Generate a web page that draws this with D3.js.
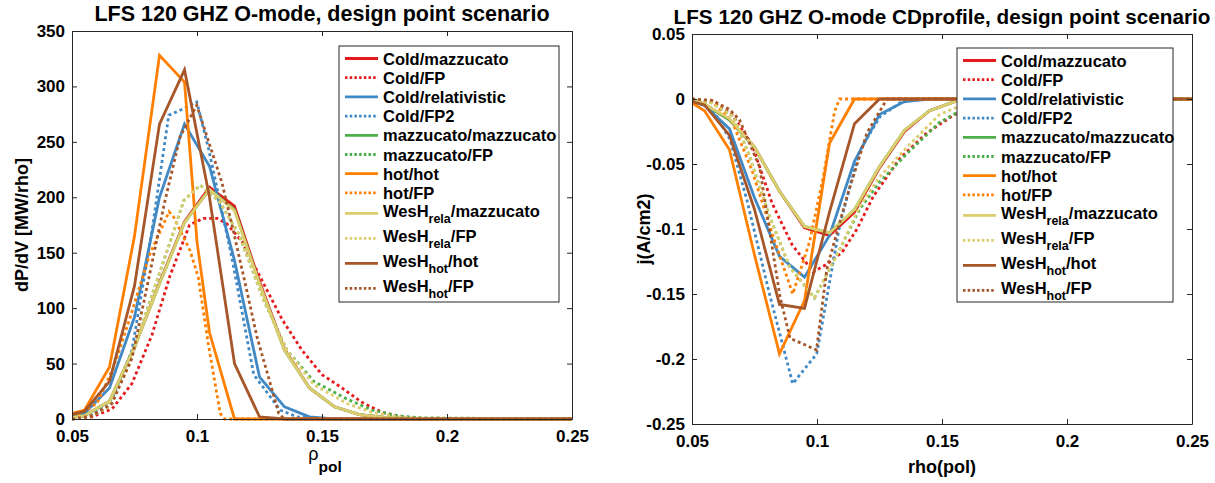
<!DOCTYPE html>
<html><head><meta charset="utf-8">
<script src="https://cdn.jsdelivr.net/npm/d3@7/dist/d3.min.js"></script>
<style>
body{margin:0;background:#fff}
svg text{font-family:"Liberation Sans",Arial,Helvetica,sans-serif;font-weight:bold;fill:#000}
</style>
</head><body>
<svg id="c" width="1215" height="483"></svg>
<script>
// ---------- legend / series names ----------
const seriesLabels = [
  ["Cold/mazzucato"], ["Cold/FP"], ["Cold/relativistic"], ["Cold/FP2"],
  ["mazzucato/mazzucato"], ["mazzucato/FP"], ["hot/hot"], ["hot/FP"],
  ["WesH","rela","/mazzucato"], ["WesH","rela","/FP"], ["WesH","hot","/hot"], ["WesH","hot","/FP"]
];
const titles = ["LFS 120 GHZ O-mode, design point scenario", "LFS 120 GHZ O-mode CDprofile, design point scenario"];
const xTicks = [0.05, 0.1, 0.15, 0.2, 0.25];
const yTicksPow = [0, 50, 100, 150, 200, 250, 300, 350];
const yTicksCur = [0.05, 0, -0.05, -0.1, -0.15, -0.2, -0.25];

// ---------- left panel: dP/dV ----------
const gridPow = [0.05,0.055,0.065,0.075,0.085,0.095,0.105,0.115,0.125,0.135,0.145,0.155,0.165,0.175,0.185,0.195,0.25];
const powColdMazz   = [1.5,3,16,65,123,178,209,192,124,63,28,11,4,1.5,0.5,0,0];
const powColdFPx    = [0.05,0.058,0.066,0.074,0.082,0.089,0.097,0.1025,0.108,0.112,0.118,0.126,0.134,0.142,0.15,0.158,0.166,0.174,0.182,0.19,0.25];
const powColdFP     = [0,2,9,32,76,128,175,181,181,176,160,125,90,62,40,28,15,6,2,0.5,0];
const powColdRel    = [3,5,28,92,200,266,228,143,38,11,2,0,0,0,0,0,0];
const powColdFP2x   = [0.05,0.058,0.066,0.074,0.082,0.0887,0.0947,0.0999,0.1047,0.114,0.1227,0.1333,0.14,0.15,0.25];
const powColdFP2    = [1,4,18,62,170,274,280,286,243,145,40,8,2,0,0];
const powMazzMazz   = [1.5,3,16,65,122,177,207,189,122,62,28,11,4,1.5,0.5,0,0];
const powMazzFPx    = [0.05,0.058,0.0647,0.073,0.081,0.0893,0.0947,0.1013,0.1087,0.1167,0.1267,0.136,0.1467,0.16,0.17,0.18,0.19,0.25];
const powMazzFP     = [0,3,11,50,105,160,197,211,197,167,107,62,34,18,8,3,1,0];
const powHotHotx    = [0.05,0.055,0.065,0.075,0.085,0.095,0.1,0.105,0.115,0.25];
const powHotHot     = [5,8,47,165,328,304,160,78,0,0];
const powHotFPx     = [0.05,0.06,0.0667,0.0733,0.081,0.0888,0.0907,0.0972,0.1005,0.1045,0.1093,0.111,0.25];
const powHotFP      = [1,14,47,92,148,187,182,152,128,68,5,0,0];
const powWesRelaMazz= [1.5,3,16,65,122,177,207,188,122,62,28,11,4,1.5,0.5,0,0];
const powWesRelaFP  = [0,3,11,50,105,160,197,211,197,167,107,62,31,14,6,2,0.5,0];
const powWesHotHotx = [0.05,0.055,0.065,0.075,0.085,0.095,0.105,0.115,0.125,0.135,0.25];
const powWesHotHot  = [4,7,34,120,266,315,200,50,2,0,0];
const powWesHotFPx  = [0.05,0.058,0.066,0.074,0.081,0.087,0.0933,0.0999,0.1067,0.11,0.1147,0.1193,0.124,0.1293,0.1327,0.135,0.25];
const powWesHotFP   = [0,3,14,55,130,195,255,283,236,213,168,122,74,32,5,0,0];

// ---------- right panel: current density ----------
const gridCur = [0.05,0.055,0.065,0.075,0.085,0.095,0.105,0.115,0.125,0.135,0.145,0.155,0.165,0.175,0.25];
const curColdMazz   = [0,-0.004,-0.016,-0.037,-0.071,-0.099,-0.105,-0.087,-0.053,-0.025,-0.009,-0.002,0,0,0];
const curColdFPx    = [0.05,0.058,0.066,0.074,0.082,0.09,0.0985,0.104,0.11,0.116,0.1225,0.133,0.144,0.155,0.165,0.175,0.25];
const curColdFP     = [0,-0.002,-0.012,-0.035,-0.08,-0.112,-0.133,-0.127,-0.118,-0.1,-0.075,-0.046,-0.026,-0.012,-0.004,0,0];
const curColdRel    = [-0.002,-0.005,-0.023,-0.076,-0.121,-0.137,-0.105,-0.048,-0.012,-0.002,0,0,0,0,0];
const curColdFP2x   = [0.05,0.058,0.0652,0.072,0.081,0.0903,0.0999,0.1092,0.117,0.1252,0.1332,0.14,0.25];
const curColdFP2    = [-0.001,-0.007,-0.031,-0.078,-0.15,-0.219,-0.196,-0.096,-0.04,-0.0136,-0.003,0,0];
const curMazzMazz   = [0,-0.004,-0.016,-0.037,-0.071,-0.098,-0.103,-0.085,-0.052,-0.024,-0.009,-0.002,0,0,0];
const curMazzFPx    = [0.05,0.058,0.0667,0.073,0.081,0.089,0.099,0.109,0.117,0.125,0.136,0.149,0.16,0.17,0.18,0.25];
const curMazzFP     = [0,-0.003,-0.0136,-0.044,-0.09,-0.129,-0.153,-0.116,-0.085,-0.064,-0.042,-0.018,-0.006,-0.001,0,0];
const curHotHot     = [-0.003,-0.009,-0.039,-0.12,-0.196,-0.155,-0.034,0,0,0,0,0,0,0,0];
const curHotFPx     = [0.05,0.058,0.066,0.074,0.0825,0.0903,0.097,0.1025,0.107,0.109,0.25];
const curHotFP      = [0,-0.002,-0.017,-0.055,-0.106,-0.15,-0.11,-0.06,-0.01,0,0];
const curWesRelaMazz= [0,-0.004,-0.015,-0.037,-0.071,-0.098,-0.103,-0.085,-0.052,-0.024,-0.009,-0.002,0,0,0];
const curWesRelaFPx = [0.05,0.058,0.0667,0.073,0.081,0.089,0.099,0.109,0.117,0.125,0.136,0.149,0.16,0.17,0.25];
const curWesRelaFP  = [0,-0.003,-0.0136,-0.044,-0.09,-0.129,-0.153,-0.116,-0.083,-0.06,-0.037,-0.012,-0.003,0,0];
const curWesHotHot  = [-0.002,-0.0046,-0.028,-0.085,-0.158,-0.161,-0.087,-0.019,0,0,0,0,0,0,0];
const curWesHotFPx  = [0.05,0.058,0.065,0.069,0.077,0.0852,0.0892,0.0998,0.104,0.112,0.12,0.128,0.25];
const curWesHotFP   = [0,-0.001,-0.008,-0.016,-0.052,-0.152,-0.184,-0.193,-0.13,-0.075,-0.026,0,0];

// ---------- styles ----------
const seriesColors = ["#E41A1C","#E41A1C","#4189C4","#4189C4","#4DAF4A","#4DAF4A",
                      "#FF7F00","#FF7F00","#DCCD6E","#DCCD6E","#A65628","#A65628"];
const seriesDotted = [false,true,false,true,false,true,false,true,false,true,false,true];

const zip = (xs, ys) => xs.map((x, i) => [x, ys[i]]);
const leftData = [
  zip(gridPow, powColdMazz), zip(powColdFPx, powColdFP), zip(gridPow, powColdRel), zip(powColdFP2x, powColdFP2),
  zip(gridPow, powMazzMazz), zip(powMazzFPx, powMazzFP), zip(powHotHotx, powHotHot), zip(powHotFPx, powHotFP),
  zip(gridPow, powWesRelaMazz), zip(powMazzFPx, powWesRelaFP), zip(powWesHotHotx, powWesHotHot), zip(powWesHotFPx, powWesHotFP)
];
const rightData = [
  zip(gridCur, curColdMazz), zip(curColdFPx, curColdFP), zip(gridCur, curColdRel), zip(curColdFP2x, curColdFP2),
  zip(gridCur, curMazzMazz), zip(curMazzFPx, curMazzFP), zip(gridCur, curHotHot), zip(curHotFPx, curHotFP),
  zip(gridCur, curWesRelaMazz), zip(curWesRelaFPx, curWesRelaFP), zip(gridCur, curWesHotHot), zip(curWesHotFPx, curWesHotFP)
];

const svg = d3.select("#c");
const AX = "#262626";

function panel(o) {
  const x = d3.scaleLinear().domain([0.05, 0.25]).range([o.l, o.r]);
  const y = d3.scaleLinear().domain(o.yDomain).range([o.b, o.t]);
  const g = svg.append("g");
  const clipId = "clip" + o.id;
  g.append("clipPath").attr("id", clipId).append("rect")
    .attr("x", o.l).attr("y", o.t - 2).attr("width", o.r - o.l).attr("height", o.b - o.t + 4);

  const line = d3.line().x(d => x(d[0])).y(d => y(d[1]));
  const lines = g.append("g").attr("clip-path", `url(#${clipId})`);
  o.data.forEach((d, i) => {
    lines.append("path").attr("d", line(d)).attr("fill", "none")
      .attr("stroke", seriesColors[i]).attr("stroke-width", 2.8)
      .attr("stroke-linejoin", "miter")
      .attr("stroke-dasharray", seriesDotted[i] ? "3,3" : null);
  });

  const fmt = d => (d === 0 ? "0" : String(d));
  const styleAxis = sel => {
    sel.selectAll("path,line").attr("stroke", AX).attr("stroke-width", 1);
    sel.selectAll("text").attr("font-size", 17).attr("font-family", null).style("fill", "#000");
    sel.attr("font-family", null).attr("font-size", null);
  };
  g.append("g").attr("transform", `translate(0,${o.b})`)
    .call(d3.axisBottom(x).tickValues(xTicks).tickFormat(fmt).tickSizeInner(-5).tickSizeOuter(0).tickPadding(11)).call(styleAxis);
  g.append("g").attr("transform", `translate(0,${o.t})`)
    .call(d3.axisTop(x).tickValues(xTicks).tickFormat("").tickSizeInner(-5).tickSizeOuter(0)).call(styleAxis);
  g.append("g").attr("transform", `translate(${o.l},0)`)
    .call(d3.axisLeft(y).tickValues(o.yTicks).tickFormat(fmt).tickSizeInner(-5).tickSizeOuter(0).tickPadding(7)).call(styleAxis);
  g.append("g").attr("transform", `translate(${o.r},0)`)
    .call(d3.axisRight(y).tickValues(o.yTicks).tickFormat("").tickSizeInner(-5).tickSizeOuter(0)).call(styleAxis);

  // title
  g.append("text").attr("x", (o.l + o.r) / 2).attr("y", o.t - 10).attr("text-anchor", "middle")
    .attr("font-size", o.titleSize).text(o.title);

  // legend
  const L = o.legend;
  g.append("rect").attr("x", L.x).attr("y", L.y).attr("width", L.w).attr("height", L.h)
    .attr("fill", "#fff").attr("stroke", AX).attr("stroke-width", 1);
  let ly = L.y + 12.5;
  seriesLabels.forEach((lab, i) => {
    if (i > 0) {
      const prevSub = seriesLabels[i - 1].length > 1, sub = lab.length > 1;
      ly += sub ? (prevSub ? 25 : 20.5) : 19.2;
    }
    g.append("line").attr("x1", L.x + 6).attr("x2", L.x + 39).attr("y1", ly).attr("y2", ly)
      .attr("stroke", seriesColors[i]).attr("stroke-width", 2.8)
      .attr("stroke-dasharray", seriesDotted[i] ? "2.5,2.2" : null);
    const t = g.append("text").attr("x", L.x + 44).attr("y", ly + 6).attr("font-size", 16.5);
    if (lab.length === 1) t.text(lab[0]);
    else {
      t.attr("y", ly + 4);
      t.append("tspan").text(lab[0]);
      t.append("tspan").attr("font-size", 12.5).attr("dy", 6).text(lab[1]);
      t.append("tspan").attr("dy", -6).text(lab[2]);
    }
  });
  return g;
}

panel({id: "L", l: 72, r: 572, t: 31, b: 419, yDomain: [0, 350], yTicks: yTicksPow,
  data: leftData, title: titles[0], titleSize: 21.5, legend: {x: 339, y: 46, w: 220, h: 256}});
panel({id: "R", l: 692, r: 1192, t: 34, b: 424, yDomain: [-0.25, 0.05], yTicks: yTicksCur,
  data: rightData, title: titles[1], titleSize: 20.7, legend: {x: 957, y: 48, w: 216, h: 254}});

// axis labels
svg.append("text").attr("transform", "translate(28,225) rotate(-90)").attr("text-anchor", "middle")
  .attr("font-size", 18).text("dP/dV [MW/rho]");
svg.append("text").attr("transform", "translate(650,229) rotate(-90)").attr("text-anchor", "middle")
  .attr("font-size", 18).text("j(A/cm2)");
const xl = svg.append("text").attr("x", 325).attr("y", 460).attr("text-anchor", "middle");
xl.append("tspan").attr("font-size", 18).attr("font-weight", "normal").text("ρ");
xl.append("tspan").attr("font-size", 15.5).attr("dy", 12).text("pol");
svg.append("text").attr("x", 942).attr("y", 473).attr("text-anchor", "middle")
  .attr("font-size", 18).text("rho(pol)");
</script>
</body></html>
